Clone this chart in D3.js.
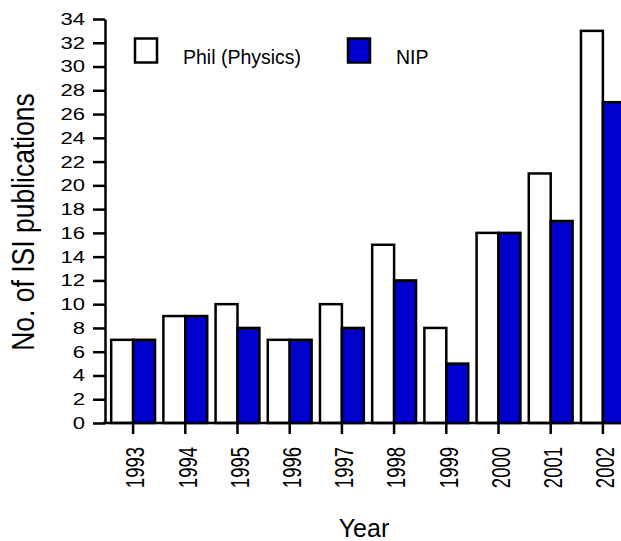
<!DOCTYPE html>
<html><head><meta charset="utf-8">
<script src="https://cdn.jsdelivr.net/npm/d3@7"></script>
<style>body{margin:0;background:#fff}svg{display:block}text{font-family:"Liberation Sans",Arial,sans-serif;fill:#000}</style>
</head><body><svg id="c" width="621" height="541"></svg>
<script>
const years = ["1993","1994","1995","1996","1997","1998","1999","2000","2001","2002"];
const phil = [7, 9, 10, 7, 10, 15, 8, 16, 21, 33];
const nip = [7, 9, 8, 7, 8, 12, 5, 16, 17, 27];
const seriesNames = ["Phil (Physics)", "NIP"];
const seriesColors = ["#ffffff", "#0000cc"];
const yTicks = d3.range(0, 35, 2);

const svg = d3.select("#c");
const y = d3.scaleLinear().domain([0, 34]).range([423, 19]);
const x = d3.scaleBand().domain(years).range([107, 629]).paddingInner(0.16).paddingOuter(0.08);
const xs = d3.scaleBand().domain([0, 1]).range([0, x.bandwidth()]);

// bars
const series = [phil, nip];
series.forEach((vals, si) => {
  svg.append("g").selectAll("rect").data(vals).join("rect")
    .attr("x", (d, i) => x(years[i]) + xs(si))
    .attr("y", d => y(d))
    .attr("width", xs.bandwidth())
    .attr("height", d => y(0) - y(d))
    .attr("fill", seriesColors[si])
    .attr("stroke", "#000").attr("stroke-width", 2.5);
});

// y axis
const ya = svg.append("g").attr("transform", "translate(105,0)")
  .call(d3.axisLeft(y).tickValues(yTicks).tickSize(12).tickPadding(20).tickSizeOuter(0));
ya.select(".domain").attr("stroke-width", 2.5);
ya.selectAll(".tick line").attr("stroke-width", 2.5);
ya.selectAll(".tick text").attr("font-size", 17).attr("x", 0).attr("text-anchor", "end")
  .attr("transform", "translate(-20,0) scale(1.3,1)");

// x axis
const xa = svg.append("g").attr("transform", "translate(0,423)")
  .call(d3.axisBottom(x).tickSize(11).tickSizeOuter(0));
xa.select(".domain").attr("d", "M103,0H621").attr("stroke-width", 2.5);
xa.selectAll(".tick line").attr("stroke-width", 2.5);
xa.selectAll(".tick text").attr("font-size", 18.5)
  .attr("transform", "scale(1.35,1) rotate(-90)").attr("text-anchor", "end")
  .attr("x", -24).attr("y", 0).attr("dy", "0.45em");

// axis titles
svg.append("text").attr("x", 364).attr("y", 537).attr("text-anchor", "middle")
  .attr("font-size", 25).text("Year");
svg.append("text").attr("transform", "translate(33.5,222) scale(1.15,1) rotate(-90)")
  .attr("text-anchor", "middle").attr("font-size", 26.5).text("No. of ISI publications");

// legend
const legX = [135, 348];
const legTX = [183, 396];
seriesNames.forEach((n, i) => {
  svg.append("rect").attr("x", legX[i]).attr("y", 38.5).attr("width", 22).attr("height", 24)
    .attr("fill", seriesColors[i]).attr("stroke", "#000").attr("stroke-width", 2.5);
  svg.append("text").attr("x", legTX[i]).attr("y", 63.5)
    .attr("font-size", 19.5).text(n);
});
</script></body></html>
